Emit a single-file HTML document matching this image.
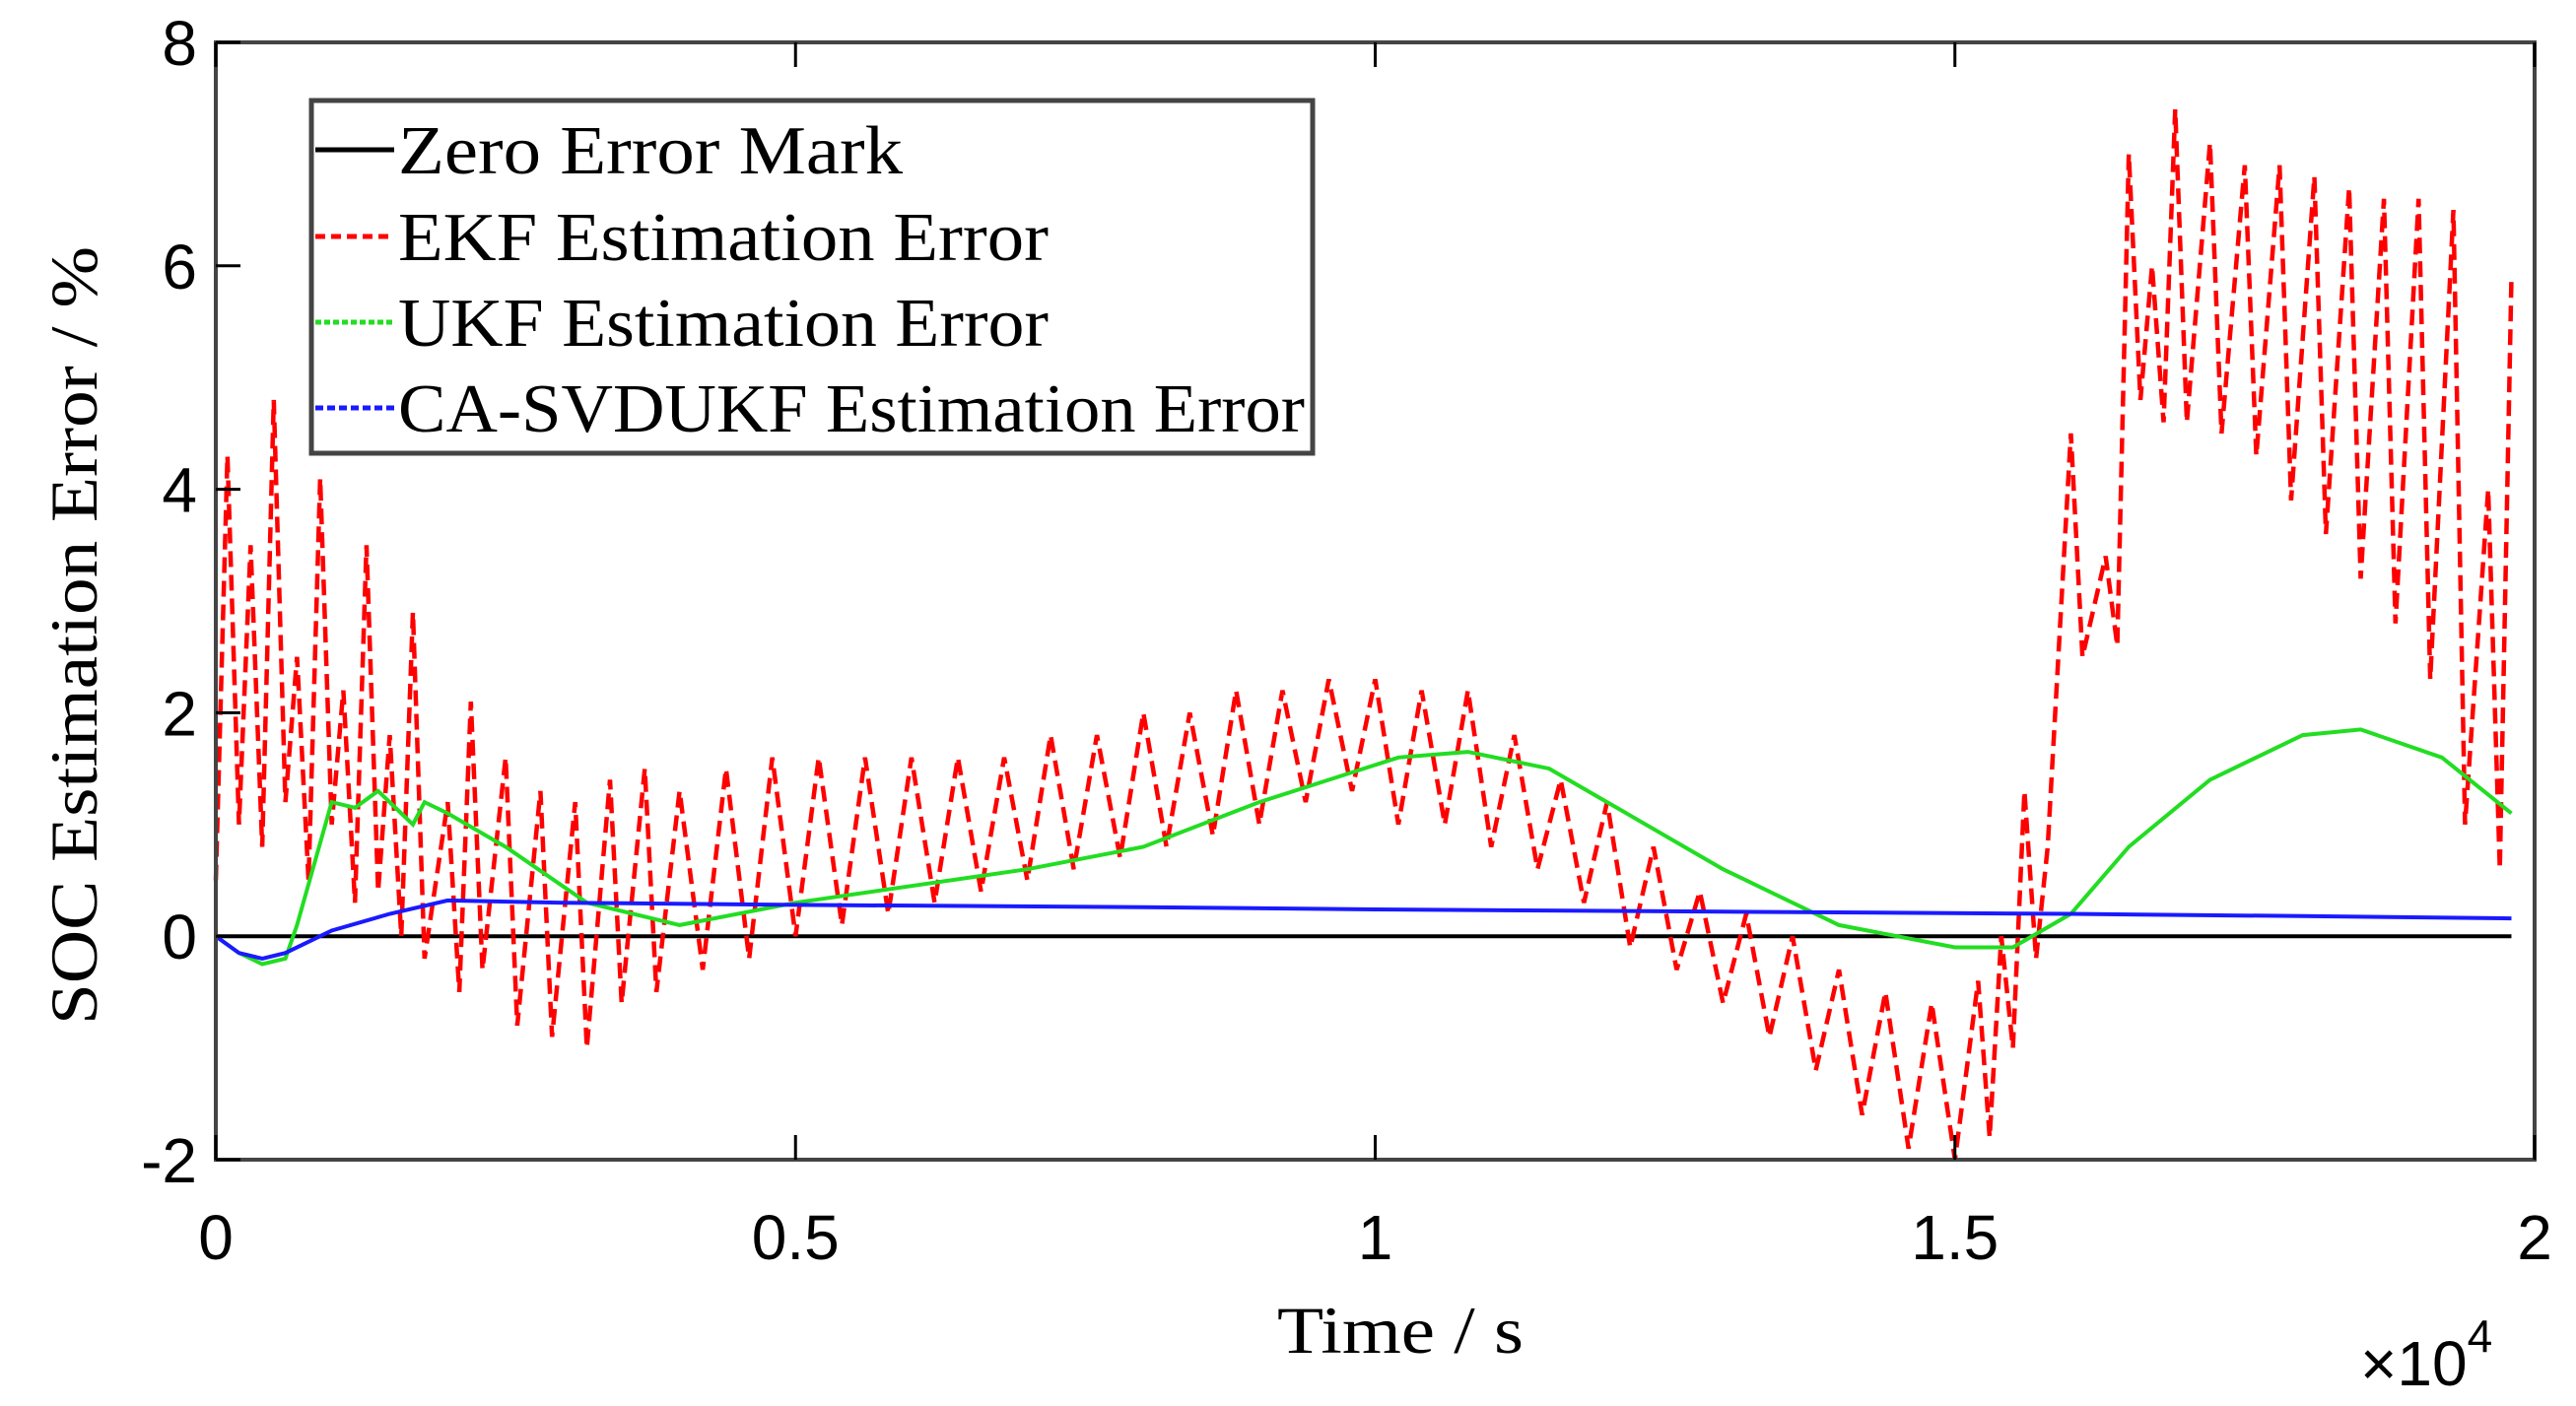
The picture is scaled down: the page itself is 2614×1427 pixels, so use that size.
<!DOCTYPE html>
<html><head><meta charset="utf-8"><style>
html,body{margin:0;padding:0;background:#fff;}
svg{display:block;}
.tick{font-family:"Liberation Sans",sans-serif;font-size:64px;fill:#000;}
.ser{font-family:"Liberation Serif",serif;fill:#000;}
</style></head><body>
<svg id="chart" width="2614" height="1427" viewBox="0 0 2614 1427">
<g id="plot"></g>
</svg>
<script>
const xTicks=[0,0.5,1,1.5,2];
const xTickLabels=["0","0.5","1","1.5","2"];
const yTicks=[-2,0,2,4,6,8];
const yTickLabels=["-2","0","2","4","6","8"];
const blueT=[0,0.02,0.04,0.06,0.1,0.15,0.2,0.3,0.5,0.8,1.0,1.3,1.6,1.8,1.98];
const blueV=[0,-0.15,-0.2,-0.15,0.05,0.2,0.32,0.3,0.28,0.26,0.24,0.22,0.2,0.18,0.16];
const greenT=[0,0.02,0.04,0.06,0.07,0.1,0.12,0.14,0.16,0.17,0.18,0.2,0.25,0.32,0.4,0.5,0.6,0.7,0.8,0.9,1.02,1.08,1.15,1.2,1.3,1.4,1.5,1.55,1.6,1.65,1.72,1.8,1.85,1.92,1.98];
const greenV=[0,-0.15,-0.25,-0.2,0.1,1.2,1.15,1.3,1.1,1.0,1.2,1.1,0.8,0.3,0.1,0.3,0.45,0.6,0.8,1.2,1.6,1.65,1.5,1.2,0.6,0.1,-0.1,-0.1,0.2,0.8,1.4,1.8,1.85,1.6,1.1];
const ekfT=[0,0.01,0.02,0.03,0.04,0.05,0.06,0.07,0.08,0.09,0.10,0.11,0.12,0.13,0.14,0.15,0.16,0.17,0.18,0.2,0.21,0.22,0.23,0.25,0.26,0.28,0.29,0.31,0.32,0.34,0.35,0.37,0.38,0.40,0.42,0.44,0.46,0.48,0.50,0.52,0.54,0.56,0.58,0.60,0.62,0.64,0.66,0.68,0.70,0.72,0.74,0.76,0.78,0.80,0.82,0.84,0.86,0.88,0.90,0.92,0.94,0.96,0.98,1.00,1.02,1.04,1.06,1.08,1.10,1.12,1.14,1.16,1.18,1.20,1.22,1.24,1.26,1.28,1.30,1.32,1.34,1.36,1.38,1.40,1.42,1.44,1.46,1.48,1.50,1.52,1.53,1.54,1.55,1.56,1.57,1.58,1.60,1.61,1.63,1.64,1.65,1.66,1.67,1.68,1.69,1.70,1.72,1.73,1.75,1.76,1.78,1.79,1.81,1.82,1.84,1.85,1.87,1.88,1.90,1.91,1.93,1.94,1.96,1.97,1.98];
const ekfV=[0.5,4.3,1.0,3.5,0.8,4.8,1.2,2.5,0.5,4.1,1.0,2.2,0.3,3.5,0.4,1.8,0.0,2.9,-0.2,1.2,-0.5,2.1,-0.3,1.6,-0.8,1.3,-0.9,1.2,-1.0,1.4,-0.6,1.5,-0.5,1.3,-0.3,1.5,-0.2,1.6,0.0,1.6,0.1,1.6,0.2,1.6,0.3,1.6,0.4,1.6,0.5,1.8,0.6,1.8,0.7,2.0,0.8,2.0,0.9,2.2,1.0,2.2,1.2,2.3,1.3,2.3,1.0,2.2,1.0,2.2,0.8,1.8,0.6,1.4,0.3,1.2,-0.1,0.8,-0.3,0.4,-0.6,0.2,-0.9,0.0,-1.2,-0.3,-1.6,-0.5,-1.9,-0.6,-2.0,-0.4,-1.8,0.0,-1.0,1.3,-0.2,0.8,4.5,2.5,3.4,2.6,7.0,4.8,6.0,4.6,7.4,4.6,7.1,4.5,6.9,4.3,6.9,3.9,6.8,3.6,6.7,3.2,6.6,2.8,6.6,2.3,6.5,1.0,4.0,0.6,5.9];

const L=219,R=2572,T=43,B=1177;
const xs=v=>L+(v-0)/(2-0)*(R-L);
const ys=v=>B-(v+2)/10*(B-T);
const NS="http://www.w3.org/2000/svg";
const plot=document.getElementById('plot');
function mk(tag,attrs,parent){const e=document.createElementNS(NS,tag);for(const k in attrs)e.setAttribute(k,attrs[k]);(parent||plot).appendChild(e);return e;}
function pts(t,v){return t.map((x,i)=>xs(x).toFixed(1)+","+ys(v[i]).toFixed(1)).join(" ");}

let z=mk('line',{x1:xs(0),x2:xs(1.98),y1:ys(0),y2:ys(0),stroke:'#000','stroke-width':4});


let ek=mk('polyline',{points:pts(ekfT,ekfV),fill:'none',stroke:'#ff0000','stroke-width':4.5,'stroke-dasharray':'16 8'});


let gr=mk('polyline',{points:pts(greenT,greenV),fill:'none',stroke:'#22dd22','stroke-width':4});


let bl=mk('polyline',{points:pts(blueT,blueV),fill:'none',stroke:'#1a1aff','stroke-width':4});



let fr=mk('rect',{x:L,y:T,width:R-L,height:B-T,fill:'none',stroke:'#444','stroke-width':4});



xTicks.forEach((v,i)=>{
  let t1=mk('line',{x1:xs(v),x2:xs(v),y1:B,y2:B-25,stroke:'#000','stroke-width':3});
  
  
  let t2=mk('line',{x1:xs(v),x2:xs(v),y1:T,y2:T+25,stroke:'#000','stroke-width':3});
  
  
  let tx=mk('text',{x:xs(v),y:1278,'text-anchor':'middle',class:'tick'});
  tx.textContent=xTickLabels[i];
  
  
});
yTicks.forEach((v,i)=>{
  let t1=mk('line',{x1:L,x2:L+25,y1:ys(v),y2:ys(v),stroke:'#000','stroke-width':3});
  
  
  let tx=mk('text',{x:200,y:ys(v)+23,'text-anchor':'end',class:'tick'});
  tx.textContent=yTickLabels[i];
  
  
});

// legend
let lg=mk('rect',{x:316,y:102,width:1016,height:358,fill:'#fff',stroke:'#444','stroke-width':5});


const legLabels=["Zero Error Mark","EKF Estimation Error","UKF Estimation Error","CA-SVDUKF Estimation Error"];
const legWidths=[512,660,660,920];
const legColors=["#000","#ff0000","#22dd22","#1a1aff"];
const legDash=["","10 6","6 3","8 4"];
const legY=[152,240,327,414];
legLabels.forEach((s,i)=>{
  let ln=mk('line',{x1:320,x2:400,y1:legY[i],y2:legY[i],stroke:legColors[i],'stroke-width':5,'stroke-dasharray':legDash[i]});
  
  
  let tx=mk('text',{x:404,y:legY[i]+24,class:'ser','font-size':70,textLength:legWidths[i],lengthAdjust:'spacingAndGlyphs'});
  tx.textContent=s;
  
  
});
</script>
<svg style="position:absolute;left:0;top:0" width="2614" height="1427">
<text x="1421" y="1373" text-anchor="middle" class="ser" font-size="68" textLength="250" lengthAdjust="spacingAndGlyphs">Time / s</text>
<text transform="translate(98,645) rotate(-90)" text-anchor="middle" class="ser" font-size="68" textLength="790" lengthAdjust="spacingAndGlyphs">SOC Estimation Error / %</text>
<text x="2395" y="1406" class="tick" font-size="66">×10<tspan dy="-34" font-size="46">4</tspan></text>
</svg>
</body></html>
